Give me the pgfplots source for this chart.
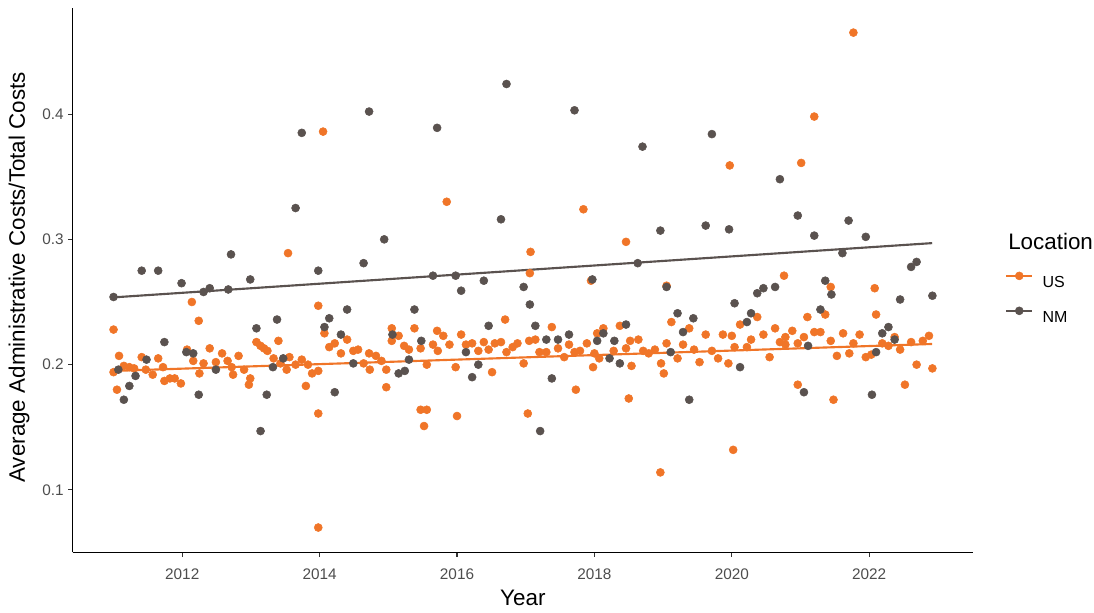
\documentclass[border=0pt]{standalone}
\usepackage{fontspec}
\setmainfont{Liberation Sans}
\usepackage{pgfplots}
\usepackage{pgfplotstable}
\pgfplotsset{compat=1.18}
\definecolor{usorange}{RGB}{240,117,40}
\definecolor{nmgrey}{RGB}{90,82,79}
\definecolor{tickgrey}{RGB}{77,77,77}

\pgfplotstableread{
year value
2011.00 0.254
2011.07 0.196
2011.15 0.172
2011.23 0.183
2011.32 0.191
2011.41 0.275
2011.48 0.204
2011.65 0.275
2011.74 0.218
2011.99 0.265
2012.06 0.210
2012.16 0.209
2012.24 0.176
2012.31 0.258
2012.40 0.261
2012.49 0.196
2012.67 0.260
2012.71 0.288
2012.99 0.268
2013.08 0.229
2013.14 0.147
2013.23 0.176
2013.32 0.198
2013.38 0.236
2013.47 0.205
2013.65 0.325
2013.74 0.385
2013.98 0.275
2014.07 0.230
2014.14 0.237
2014.22 0.178
2014.31 0.224
2014.40 0.244
2014.49 0.201
2014.64 0.281
2014.72 0.402
2014.94 0.300
2015.06 0.224
2015.15 0.193
2015.24 0.195
2015.30 0.204
2015.38 0.244
2015.48 0.219
2015.65 0.271
2015.71 0.389
2015.98 0.271
2016.06 0.259
2016.13 0.210
2016.22 0.190
2016.31 0.200
2016.39 0.267
2016.46 0.231
2016.64 0.316
2016.72 0.424
2016.97 0.262
2017.06 0.248
2017.14 0.231
2017.21 0.147
2017.30 0.220
2017.38 0.189
2017.47 0.220
2017.63 0.224
2017.71 0.403
2017.97 0.268
2018.04 0.219
2018.13 0.225
2018.22 0.205
2018.29 0.219
2018.37 0.201
2018.46 0.232
2018.63 0.281
2018.70 0.374
2018.96 0.307
2019.05 0.262
2019.11 0.210
2019.21 0.241
2019.29 0.226
2019.38 0.172
2019.44 0.237
2019.62 0.311
2019.71 0.384
2019.96 0.308
2020.04 0.249
2020.12 0.198
2020.22 0.234
2020.28 0.241
2020.37 0.257
2020.46 0.261
2020.63 0.262
2020.70 0.348
2020.96 0.319
2021.05 0.178
2021.11 0.215
2021.20 0.303
2021.29 0.244
2021.36 0.267
2021.45 0.256
2021.61 0.289
2021.70 0.315
2021.95 0.302
2022.04 0.176
2022.10 0.210
2022.19 0.225
2022.28 0.230
2022.37 0.220
2022.45 0.252
2022.61 0.278
2022.69 0.282
2022.92 0.255
}\nmdata

\pgfplotstableread{
year value
2011.00 0.228
2011.00 0.194
2011.05 0.180
2011.08 0.207
2011.15 0.199
2011.23 0.198
2011.30 0.197
2011.41 0.206
2011.47 0.196
2011.57 0.192
2011.65 0.205
2011.72 0.198
2011.74 0.187
2011.82 0.189
2011.89 0.189
2011.98 0.185
2012.07 0.212
2012.14 0.250
2012.16 0.203
2012.24 0.235
2012.25 0.193
2012.31 0.201
2012.40 0.213
2012.49 0.202
2012.58 0.209
2012.66 0.203
2012.72 0.198
2012.74 0.192
2012.82 0.207
2012.90 0.196
2012.97 0.184
2012.99 0.189
2013.08 0.218
2013.14 0.215
2013.19 0.213
2013.24 0.211
2013.33 0.205
2013.40 0.219
2013.43 0.201
2013.52 0.196
2013.54 0.289
2013.56 0.206
2013.65 0.200
2013.74 0.204
2013.80 0.183
2013.83 0.200
2013.89 0.193
2013.98 0.195
2013.98 0.247
2013.98 0.161
2013.98 0.070
2014.05 0.386
2014.07 0.225
2014.14 0.214
2014.22 0.217
2014.31 0.209
2014.40 0.220
2014.49 0.211
2014.56 0.212
2014.64 0.201
2014.72 0.209
2014.73 0.196
2014.82 0.207
2014.90 0.203
2014.97 0.196
2014.97 0.182
2015.05 0.229
2015.05 0.219
2015.15 0.223
2015.23 0.215
2015.30 0.212
2015.38 0.229
2015.47 0.213
2015.47 0.164
2015.52 0.151
2015.56 0.164
2015.56 0.200
2015.65 0.216
2015.71 0.227
2015.72 0.211
2015.80 0.223
2015.85 0.330
2015.89 0.216
2015.98 0.198
2016.00 0.159
2016.06 0.224
2016.13 0.216
2016.22 0.217
2016.31 0.211
2016.39 0.218
2016.46 0.212
2016.51 0.194
2016.55 0.217
2016.64 0.218
2016.70 0.236
2016.72 0.210
2016.81 0.214
2016.88 0.217
2016.97 0.201
2017.03 0.161
2017.05 0.219
2017.06 0.273
2017.07 0.290
2017.14 0.220
2017.20 0.210
2017.30 0.210
2017.38 0.230
2017.47 0.213
2017.56 0.206
2017.63 0.216
2017.71 0.210
2017.73 0.180
2017.79 0.211
2017.84 0.324
2017.89 0.217
2017.95 0.267
2017.98 0.198
2018.00 0.209
2018.04 0.225
2018.07 0.205
2018.13 0.229
2018.28 0.211
2018.37 0.231
2018.46 0.298
2018.46 0.213
2018.50 0.173
2018.52 0.219
2018.54 0.199
2018.64 0.220
2018.71 0.211
2018.79 0.209
2018.88 0.212
2018.96 0.114
2018.97 0.201
2019.01 0.193
2019.05 0.263
2019.05 0.217
2019.12 0.234
2019.21 0.205
2019.29 0.216
2019.38 0.229
2019.45 0.212
2019.53 0.202
2019.62 0.224
2019.71 0.211
2019.80 0.205
2019.87 0.224
2019.95 0.201
2019.97 0.359
2020.00 0.223
2020.02 0.132
2020.04 0.214
2020.12 0.232
2020.22 0.214
2020.28 0.220
2020.37 0.238
2020.46 0.224
2020.55 0.206
2020.63 0.229
2020.70 0.218
2020.76 0.271
2020.78 0.222
2020.78 0.216
2020.88 0.227
2020.96 0.217
2020.96 0.184
2021.01 0.361
2021.05 0.222
2021.10 0.238
2021.20 0.398
2021.20 0.226
2021.29 0.226
2021.36 0.240
2021.44 0.262
2021.44 0.219
2021.48 0.172
2021.53 0.207
2021.62 0.225
2021.71 0.209
2021.77 0.465
2021.77 0.217
2021.86 0.224
2021.95 0.206
2022.03 0.208
2022.08 0.261
2022.10 0.240
2022.19 0.217
2022.28 0.215
2022.37 0.222
2022.45 0.212
2022.52 0.184
2022.61 0.218
2022.69 0.200
2022.78 0.219
2022.87 0.223
2022.92 0.197
}\usdata

\begin{document}
\begin{tikzpicture}
\useasboundingbox (-54.45pt,-44.8pt) rectangle (766.05pt,414.2pt);
\begin{axis}[
  at={(0pt,0pt)}, anchor=south west,
  scale only axis,
  width=675.4pt, height=408.3pt,
  xmin=2010.404, xmax=2023.513,
  ymin=0.05025, ymax=0.48475,
  axis x line*=bottom, axis y line*=left,
  axis line style={line width=0.8pt, black, -},
  xtick={2012,2014,2016,2018,2020,2022},
  xticklabels={2012,2014,2016,2018,2020,2022},
  ytick={0.1,0.2,0.3,0.4},
  yticklabels={0.1,0.2,0.3,0.4},
  tick align=outside,
  major tick length=3.2pt,
  tick style={line width=0.8pt, color=black!80},
  ticklabel style={font=\fontsize{11.5}{13}\selectfont, color=tickgrey},
  xticklabel style={yshift=-6pt},
  xlabel={Year},
  ylabel={Average Administrative Costs/Total Costs},
  label style={font=\fontsize{16.8}{20}\selectfont, color=black},
  xlabel style={at={(axis description cs:0.5,-0.084)}, anchor=center},
  ylabel style={at={(axis description cs:-0.0595,0.505)}, anchor=center},
  clip=false,
  legend style={at={(axis description cs:1.0353,0.516)}, anchor=north west,
    draw=none, fill=none, inner sep=0pt, row sep=14.4pt, column sep=7pt,
    font=\fontsize{12}{14}\selectfont,
    nodes={inner sep=0pt, text height=8.6pt, text depth=0pt}},
  legend cell align=left,
]
\addplot[only marks, mark=*, mark size=3pt, color=usorange,
  legend image code/.code={
    \draw[usorange, line width=1.6pt] (0pt,4.3pt) -- (19.5pt,4.3pt);
    \fill[usorange] (9.75pt,4.3pt) circle (3pt);}]
  table[x=year, y=value] {\usdata};
\addlegendentry{US}
\addplot[only marks, mark=*, mark size=3pt, color=nmgrey,
  legend image code/.code={
    \draw[nmgrey, line width=1.6pt] (0pt,4.3pt) -- (19.5pt,4.3pt);
    \fill[nmgrey] (9.75pt,4.3pt) circle (3pt);}]
  table[x=year, y=value] {\nmdata};
\addlegendentry{NM}
\addplot[forget plot, color=usorange, line width=1.6pt] coordinates {(2011.0,0.1950) (2022.917,0.2165)};
\addplot[forget plot, color=nmgrey, line width=1.6pt] coordinates {(2011.0,0.2537) (2022.917,0.2970)};
\node[anchor=west, font=\fontsize{16.8}{20}\selectfont, inner sep=0pt] at (axis description cs:1.0387,0.570) {Location};
\end{axis}
\end{tikzpicture}
\end{document}
